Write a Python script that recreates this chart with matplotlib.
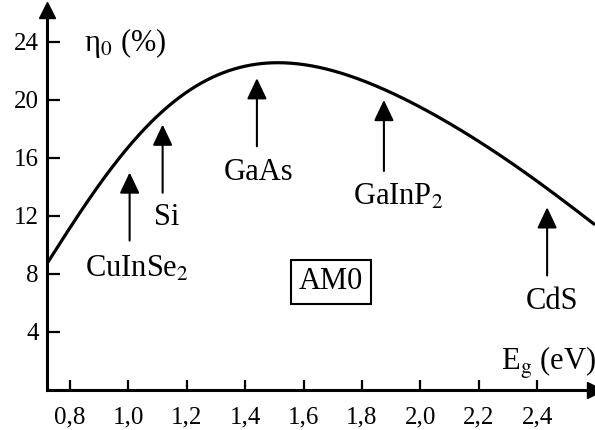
import matplotlib
matplotlib.use("Agg")
import matplotlib.pyplot as plt
import numpy as np

plt.rcParams["font.family"] = ["Liberation Serif", "DejaVu Serif"]
plt.rcParams["mathtext.fontset"] = "stix"

# Ideal efficiency vs band gap (AM0)
eg = [0.723, 0.809, 0.923, 1.038, 1.152, 1.266, 1.381, 1.426, 1.541, 1.655,
      1.769, 1.884, 2.043, 2.158, 2.273, 2.386, 2.501, 2.598]
eta = [8.76, 11.52, 14.73, 17.72, 19.79, 21.28, 22.21, 22.43, 22.66, 22.32,
       21.52, 20.48, 19.10, 17.72, 16.23, 14.50, 12.90, 11.40]

# Semiconductor markers: name, band gap, arrow tip, arrow tail, label position
materials = ["CuInSe$_2$", "Si", "GaAs", "GaInP$_2$", "CdS"]
mat_eg = [1.004, 1.117, 1.44, 1.875, 2.434]
tip_eta = [15.0, 18.3, 21.5, 20.0, 12.6]
tail_eta = [10.3, 13.6, 16.8, 15.1, 7.9]
label_eg = [1.028, 1.13, 1.446, 1.923, 2.45]
label_eta = [8.3, 11.9, 15.0, 13.3, 6.1]

xticks = [0.8, 1.0, 1.2, 1.4, 1.6, 1.8, 2.0, 2.2, 2.4]
xticklabels = ["0,8", "1,0", "1,2", "1,4", "1,6", "1,8", "2,0", "2,2", "2,4"]
yticks = [4, 8, 12, 16, 20, 24]

W, H = 595, 430
fig = plt.figure(figsize=(W / 100, H / 100), dpi=100)
ax = fig.add_axes([47 / W, (H - 390) / H, (595 - 47) / W, 380 / H])
ax.set_xlim(0.721, 2.598)
ax.set_ylim(0, 26.2)

# Smooth least-squares curve through the efficiency points
xs = np.linspace(eg[0], eg[-1], 400)
coef = np.polyfit(eg, eta, 6)
ax.plot(xs, np.polyval(coef, xs), color="black", lw=2.3, clip_on=False,
        solid_capstyle="butt")

for name, e, t1, t0, lx, ly in zip(materials, mat_eg, tip_eta, tail_eta,
                                   label_eg, label_eta):
    ax.annotate("", xy=(e, t1), xytext=(e, t0),
                arrowprops=dict(arrowstyle="-|>,head_length=0.8,head_width=0.38",
                                mutation_scale=16, color="black", lw=1.5,
                                shrinkA=0, shrinkB=0))
    ax.text(lx, ly, name, ha="center", va="center", fontsize=22)

ax.text(1.693, 7.45, "AM0", ha="center", va="center", fontsize=22,
        bbox=dict(boxstyle="square,pad=0.25", fc="white", ec="black", lw=1.5))

ax.text(0.99, 23.9, "η$_0$ (%)", ha="center", va="center", fontsize=22)
ax.text(2.44, 1.9, r"E$_\mathrm{g}$ (eV)", ha="center", va="center", fontsize=22)

for s in ["top", "right"]:
    ax.spines[s].set_visible(False)
for s in ["left", "bottom"]:
    ax.spines[s].set_linewidth(2.2)

ax.set_xticks(xticks)
ax.set_xticklabels(xticklabels)
ax.set_yticks(yticks)
ax.tick_params(axis="x", direction="in", length=7, width=1.6, pad=12,
               labelsize=18)
ax.tick_params(axis="y", direction="in", length=9, width=1.6, pad=6,
               labelsize=18)

# Axis arrowheads
ax.plot(1, 0, ">", color="black", markersize=11, transform=ax.transAxes,
        clip_on=False)
ax.plot(0, 1, "^", color="black", markersize=11, transform=ax.transAxes,
        clip_on=False)

fig.savefig("out.png", dpi=100)
